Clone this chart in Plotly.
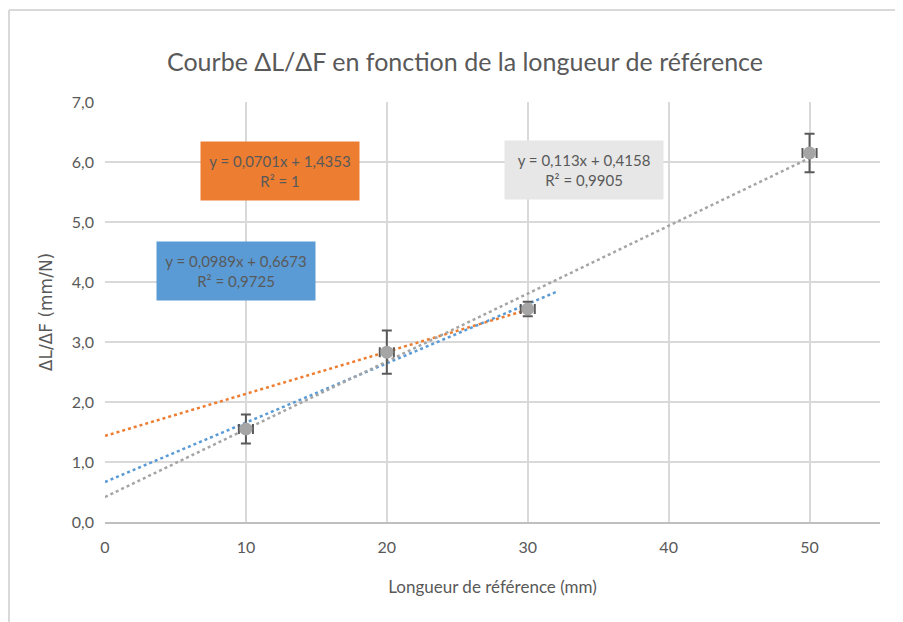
import plotly.graph_objects as go

# measured points
longueur = [10, 20, 30, 50]
dl_df = [1.55, 2.83, 3.55, 6.15]
err_y = [0.24, 0.36, 0.12, 0.32]
err_x = [0.5, 0.5, 0.5, 0.5]

# trendline end points
orange_x = [0, 30]
orange_y = [1.435, 3.538]
blue_x = [0, 32]
blue_y = [0.667, 3.832]
gray_x = [0, 50]
gray_y = [0.416, 6.066]

labels = [
    ("y = 0,0701x + 1,4353<br>R² = 1", 12.4, 5.85, "#ed7d31"),
    ("y = 0,0989x + 0,6673<br>R² = 0,9725", 9.3, 4.18, "#5b9bd5"),
    ("y = 0,113x + 0,4158<br>R² = 0,9905", 34.0, 5.86, "#e7e7e7"),
]

FONT = "Lato"
GREY = "#595959"

# page body adds an 8px offset, so layout is expressed in figure pixels
OFF = 8
W, H = 903, 622
L, T = 105 - OFF, 102 - OFF
R = W - (880 - OFF)
B = H - (522 - OFF)

fig = go.Figure()

fig.add_trace(go.Scatter(x=orange_x, y=orange_y, mode="lines",
                         line=dict(color="#ed7d31", width=2.5, dash="dot"),
                         hoverinfo="skip"))
fig.add_trace(go.Scatter(x=blue_x, y=blue_y, mode="lines",
                         line=dict(color="#5b9bd5", width=2.5, dash="dot"),
                         hoverinfo="skip"))
fig.add_trace(go.Scatter(x=gray_x, y=gray_y, mode="lines",
                         line=dict(color="#a5a5a5", width=2.5, dash="dot"),
                         hoverinfo="skip"))

fig.add_trace(go.Scatter(
    x=longueur, y=dl_df, mode="markers",
    marker=dict(color="#a5a5a5", size=13),
    error_y=dict(type="data", array=err_y, color=GREY, thickness=2, width=5),
    error_x=dict(type="data", array=err_x, color=GREY, thickness=2, width=5),
))

for txt, x, y, col in labels:
    fig.add_annotation(x=x, y=y, xref="x", yref="y", text=txt, showarrow=False,
                       bgcolor=col, width=152, height=52, borderpad=3,
                       font=dict(family=FONT, size=15, color=GREY))

# chart border (top + left visible in the crop)
pw = W - L - R
ph = H - T - B
bx = (9 - OFF - L) / pw
by = (H - B - (10 - OFF)) / ph
fig.add_shape(type="line", xref="paper", yref="paper",
              x0=bx, x1=bx, y0=by, y1=(H - B - H) / ph,
              line=dict(color="#d9d9d9", width=2))
fig.add_shape(type="line", xref="paper", yref="paper",
              x0=bx, x1=(W - L) / pw, y0=by, y1=by,
              line=dict(color="#d9d9d9", width=2))

fig.update_layout(
    width=W, height=H,
    margin=dict(l=L, r=R, t=T, b=B, autoexpand=False),
    paper_bgcolor="white", plot_bgcolor="white",
    showlegend=False,
    separators=", ",
    font=dict(family=FONT, color=GREY),
    title=dict(text="Courbe ΔL/ΔF en fonction de la longueur de référence",
               x=(465 - OFF) / W, xanchor="center",
               y=1 - (62 - OFF) / H, yanchor="middle",
               font=dict(family=FONT, size=25, color=GREY)),
    xaxis=dict(range=[0, 55], dtick=10, tick0=0, showgrid=True,
               gridcolor="#d9d9d9", gridwidth=1.5, zeroline=False,
               showline=True, linecolor="#bfbfbf", linewidth=2,
               ticks="", ticklabelstandoff=10,
               tickfont=dict(size=16, color=GREY), automargin=False,
               title=dict(text="Longueur de référence (mm)", standoff=26,
                          font=dict(size=17, color=GREY))),
    yaxis=dict(range=[0, 7], dtick=1, tickformat=".1f", showgrid=True,
               gridcolor="#d9d9d9", gridwidth=1.5, zeroline=False,
               ticks="", ticklabelstandoff=10,
               tickfont=dict(size=16, color=GREY), automargin=False,
               title=dict(text="ΔL/ΔF (mm/N)", standoff=14,
                          font=dict(family="DejaVu Sans", size=17, color=GREY))),
)

fig.write_html("out.html")
